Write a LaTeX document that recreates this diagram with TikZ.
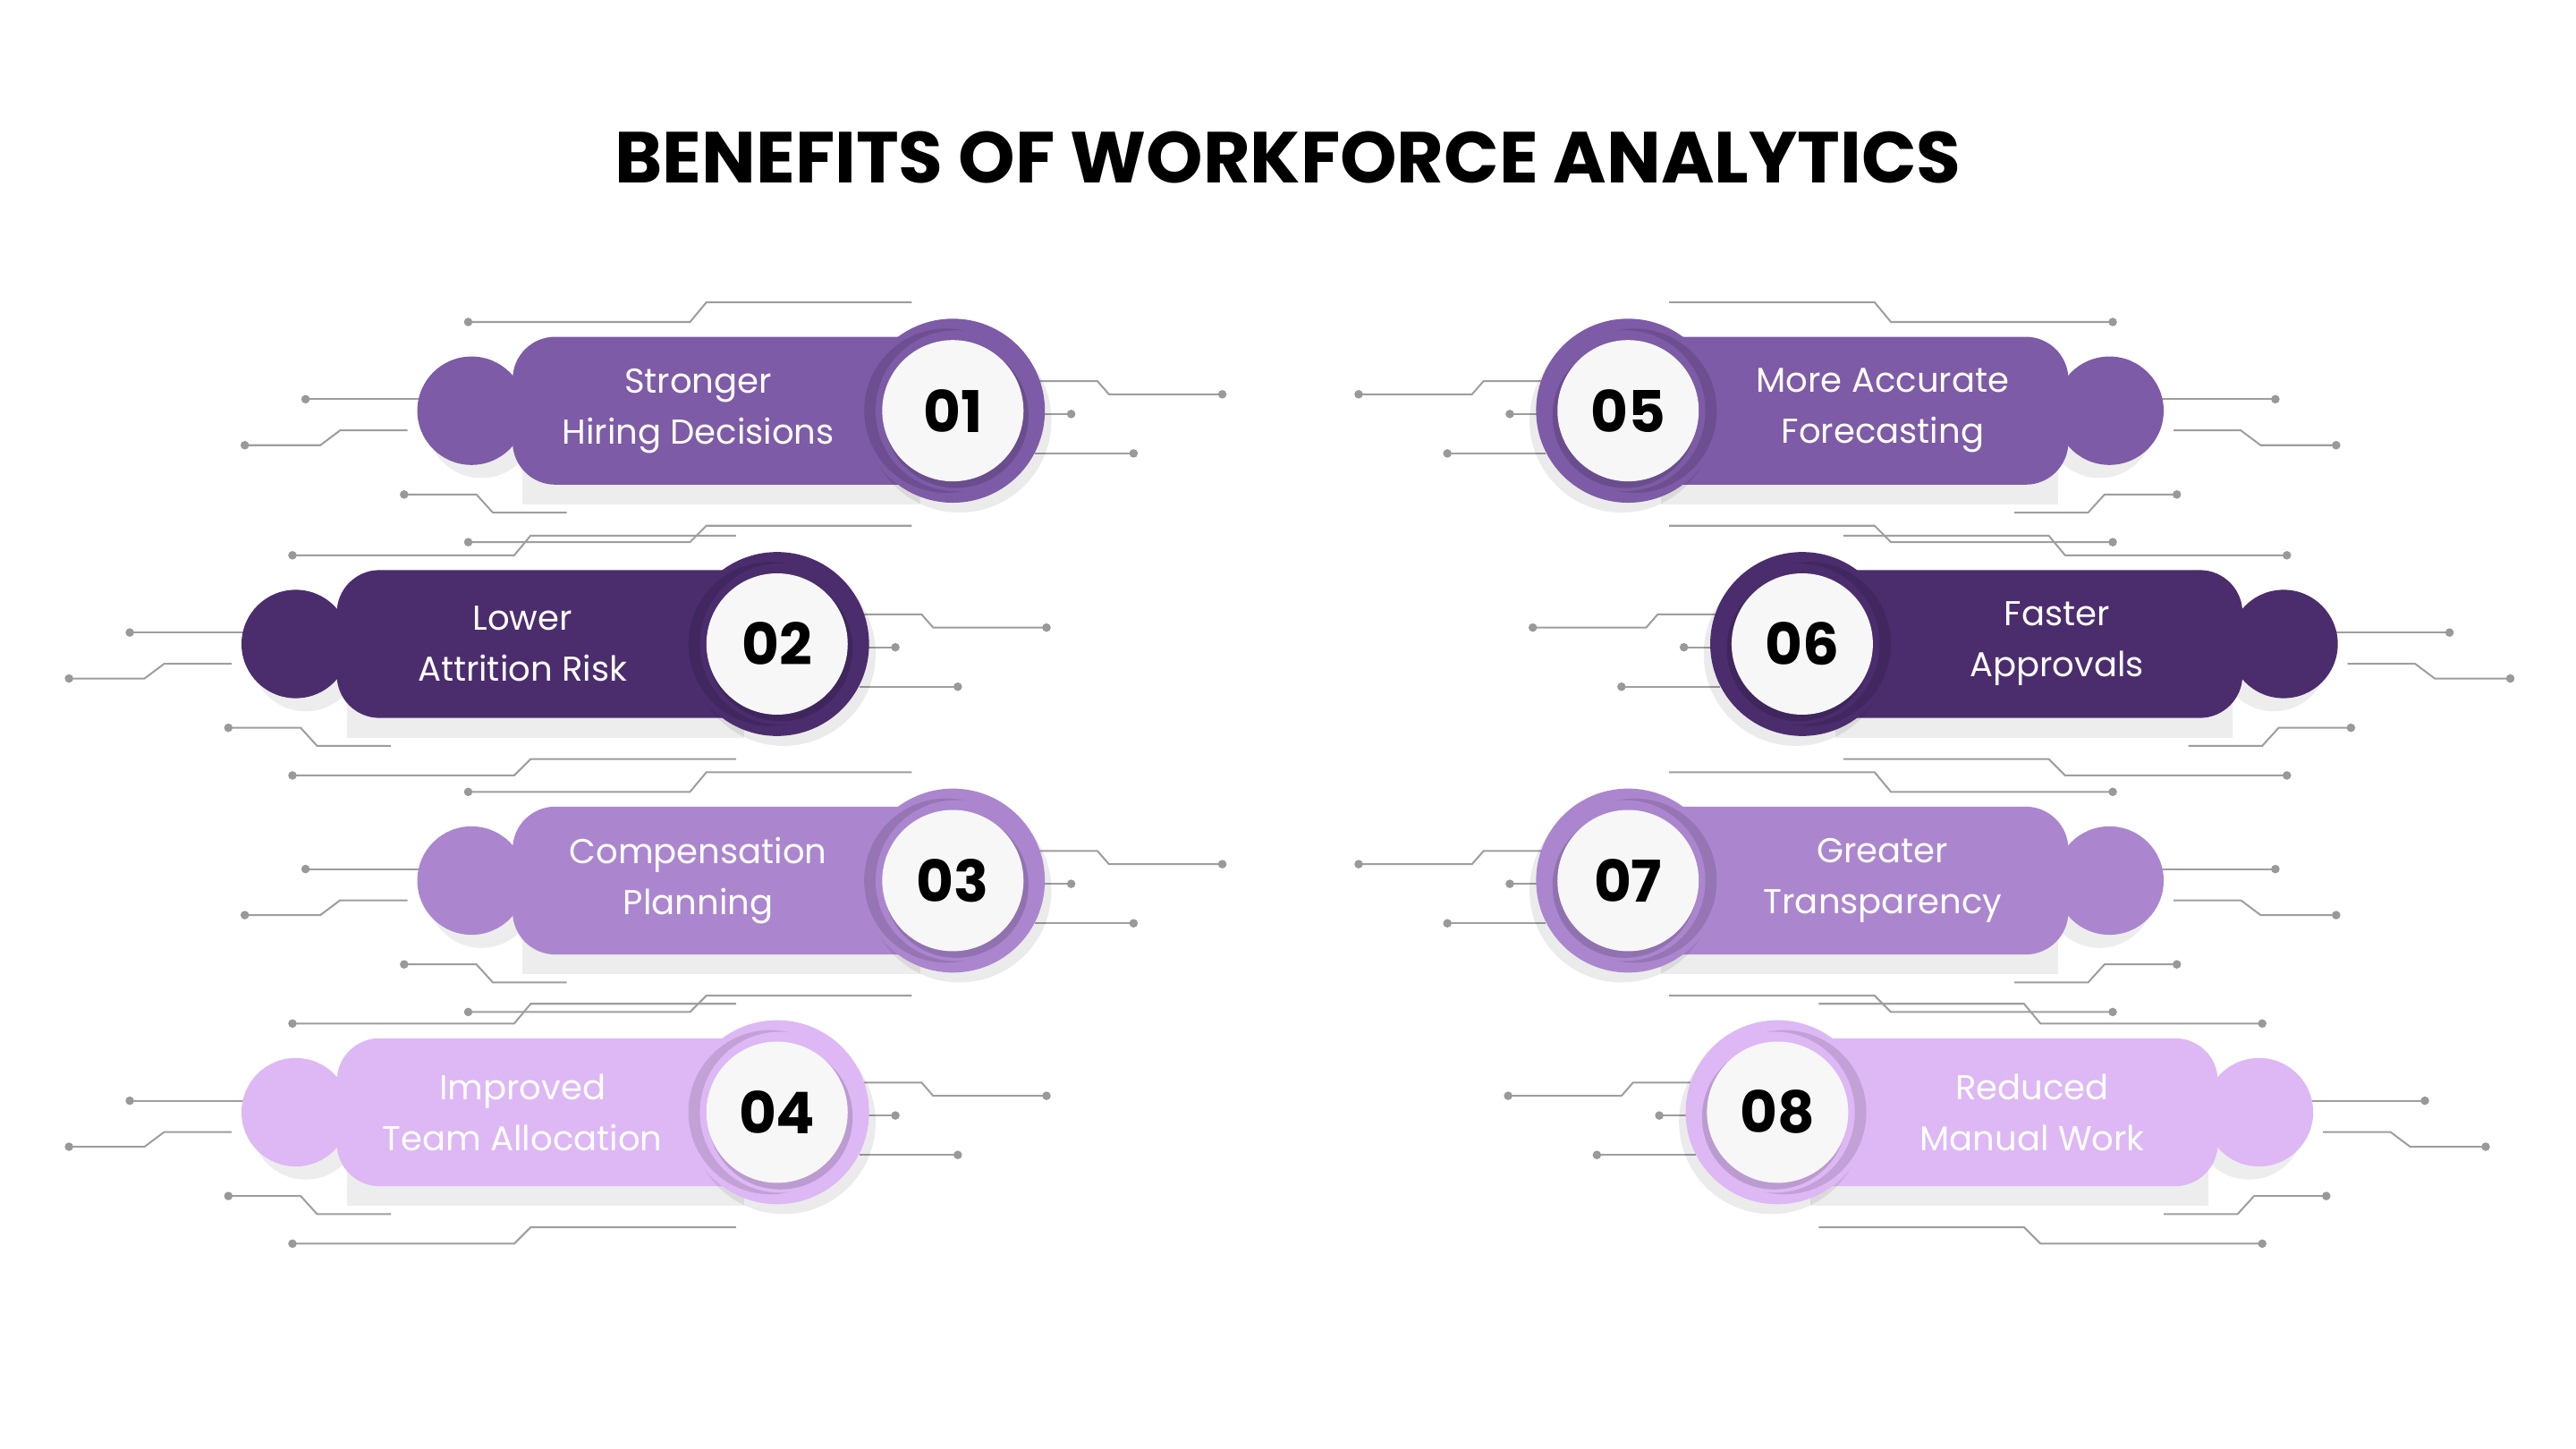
\documentclass[tikz,border=0pt]{standalone}
\usepackage{fontspec}
\setmainfont{Poppins}
\begin{document}
\begin{tikzpicture}[x=1pt,y=-1pt,
  wire/.style={draw=black!38,line width=1.1pt},
  dotm/.style={fill=black!40},
  lbl/.style={text=white,align=center,font=\fontsize{21}{31}\selectfont},
  numt/.style={font=\fontsize{35}{40}\selectfont\bfseries,text=black}]
\useasboundingbox (0,0) rectangle (1568,882);
\fill[white] (0,0) rectangle (1568,882);
\node[font=\fontsize{44}{50}\selectfont\bfseries] (title) at (784,96) {BENEFITS OF WORKFORCE ANALYTICS};
\colorlet{ca}{white}
\definecolor{c1}{HTML}{7D5BA6}
\definecolor{c2}{HTML}{4B2D6E}
\definecolor{c3}{HTML}{AB86CF}
\definecolor{c4}{HTML}{DDB8F5}
\newcommand\wires[3]{%
 \begin{scope}[shift={(#1,#2)},xscale=#3]
  \draw[wire] (-295,-54)--(-160,-54)--(-150,-66)--(-25,-66); \fill[dotm] (-295,-54) circle (2.6);
  \draw[wire] (-394,-7)--(-325,-7); \fill[dotm] (-394,-7) circle (2.6);
  \draw[wire] (-431,21)--(-385,21)--(-373,12)--(-332,12); \fill[dotm] (-431,21) circle (2.6);
  \draw[wire] (-334,51)--(-290,51)--(-280,62)--(-235,62); \fill[dotm] (-334,51) circle (2.6);
  \draw[wire] (-295,80)--(-160,80)--(-150,70)--(-25,70); \fill[dotm] (-295,80) circle (2.6);
  \draw[wire] (50,-18)--(88,-18)--(95,-10)--(164,-10); \fill[dotm] (164,-10) circle (2.6);
  \draw[wire] (50,2)--(72,2); \fill[dotm] (72,2) circle (2.6);
  \draw[wire] (50,26)--(110,26); \fill[dotm] (110,26) circle (2.6);
 \end{scope}}
% #1 name #2 cx #3 cy #4 dir(1 left item,-1 right) #5 colour #6 text #7 number
\newcommand\benefit[7]{%
 \wires{#2}{#3}{#4}
 \begin{scope}[shift={(#2,#3)},xscale=#4]
  \fill[black,opacity=0.07] (-287,8) circle (33);
  \fill[black,opacity=0.07] (-262,-37) rectangle (-20,57);
  \fill[#5] (-293,0) circle (33);
  \fill[#5,rounded corners=26] (-268,-45) rectangle (0,45);
  \fill[black,opacity=0.08] (4,6) circle (56);
  \fill[#5] (0,0) circle (56);
  \fill[black,opacity=0.12] (-4,0) circle (50);
  \fill[#5] (2,0) circle (49);
  \fill[black,opacity=0.15] (2,3) circle (44);
 \end{scope}
 \node[circle,fill=black!3,minimum size=86pt,inner sep=0] (#1c) at (#2,#3) {};
 \node[numt] (#1n) at (#2,#3) {#7};
 \node[lbl] (#1t) at ({#2-155*#4},#3) {#6};}
\benefit{a}{580}{250}{1}{c1}{Stronger\\Hiring Decisions}{01}
\benefit{b}{473}{392}{1}{c2}{Lower\\Attrition Risk}{02}
\benefit{c}{580}{536}{1}{c3}{Compensation\\Planning}{03}
\benefit{d}{473}{677}{1}{c4}{Improved\\Team Allocation}{04}
\benefit{e}{991}{250}{-1}{c1}{More Accurate\\Forecasting}{05}
\benefit{f}{1097}{392}{-1}{c2}{Faster\\Approvals}{06}
\benefit{g}{991}{536}{-1}{c3}{Greater\\Transparency}{07}
\benefit{h}{1082}{677}{-1}{c4}{Reduced\\Manual Work}{08}
\end{tikzpicture}
\end{document}
